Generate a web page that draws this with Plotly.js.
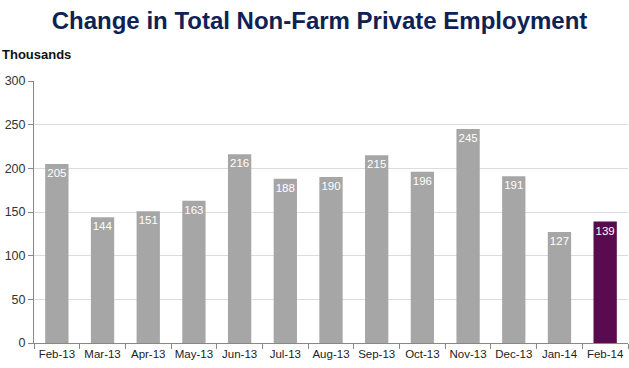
<!DOCTYPE html>
<html><head><meta charset="utf-8">
<script src="https://cdn.plot.ly/plotly-3.0.1.min.js"></script>
<style>html,body{margin:0;padding:0;background:#fff}#chart{width:629px;height:368px}</style>
</head><body><div id="chart"></div>
<script>
const months = ["Feb-13","Mar-13","Apr-13","May-13","Jun-13","Jul-13","Aug-13","Sep-13","Oct-13","Nov-13","Dec-13","Jan-14","Feb-14"];
const changes = [205,144,151,163,216,188,190,215,196,245,191,127,139];
const yTicks = [0,50,100,150,200,250,300];
const titleText = "Change in Total Non-Farm Private Employment";
const unitLabel = "Thousands";

const colors = months.map((m,i)=> i===months.length-1 ? "#5a0a4e" : "#a6a6a6");

Plotly.newPlot("chart",[{
  type:"bar", x:months, y:changes,
  marker:{color:colors, line:{width:0}},
  text:changes.map(String), textposition:"inside", insidetextanchor:"end",
  textangle:0, constraintext:"none",
  textfont:{color:"#ffffff", size:11.5, family:"Arial, Liberation Sans, sans-serif"},
  hoverinfo:"none"
}],{
  width:629, height:368,
  margin:{l:34,r:1,t:81,b:25},
  paper_bgcolor:"#fff", plot_bgcolor:"#fff",
  bargap:0.49,
  showlegend:false,
  title:{text:"<b>"+titleText+"</b>", x:0.508, xanchor:"center", y:0.945, yanchor:"middle",
    font:{family:"Arial, Liberation Sans, sans-serif", size:24, color:"#0e2254"}},
  xaxis:{type:"category", showline:true, linecolor:"#888", linewidth:1,
    ticks:"outside", ticklen:5, tickcolor:"#888", tickson:"boundaries", tickangle:0,
    tickfont:{family:"Arial, Liberation Sans, sans-serif", size:11.5, color:"#222"},
    showgrid:false, fixedrange:true},
  yaxis:{range:[0,300], tickvals:yTicks, showline:true, linecolor:"#888", linewidth:1,
    ticks:"outside", ticklen:5, tickcolor:"#888",
    gridcolor:"#dcdcdc", gridwidth:1, zeroline:false,
    tickfont:{family:"Arial, Liberation Sans, sans-serif", size:12.5, color:"#333"}},
  annotations:[{text:"<b>"+unitLabel+"</b>", xref:"paper", yref:"paper", x:-0.057, y:1.1,
    xanchor:"left", yanchor:"middle", showarrow:false,
    font:{family:"Arial, Liberation Sans, sans-serif", size:13, color:"#111"}}]
},{displayModeBar:false, staticPlot:true});
</script></body></html>
